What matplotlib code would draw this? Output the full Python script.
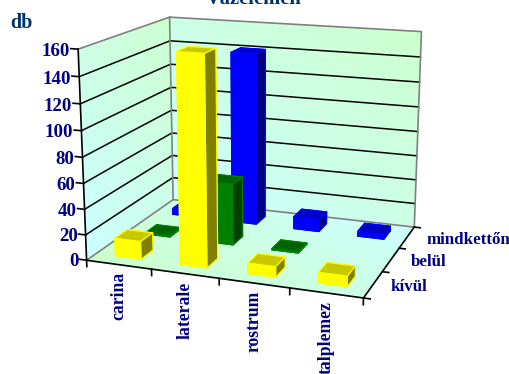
import matplotlib
matplotlib.use("Agg")
import matplotlib.pyplot as plt
from matplotlib.colors import to_rgb
from mpl_toolkits.mplot3d import proj3d
import numpy as np

categories = ["carina", "laterale", "rostrum", "talplemez"]
series_names = ["kívül", "belül", "mindkettőn"]
kivul = [14, 160, 8, 8]
belul = [1, 49, 1, 0]
mindketto = [5, 141, 10, 4]
z_ticks = [0, 20, 40, 60, 80, 100, 120, 140, 160]

# front / top / side colours of each series
series_colors = [
    ("#FFFF00", "#C8C800", "#808000"),
    ("#008000", "#006400", "#004000"),
    ("#0000FF", "#0000C8", "#000080"),
]
CYAN = np.array(to_rgb("#CCFFFF"))
GREEN = np.array(to_rgb("#CCFFCC"))
LABEL = "#000080"
DARK = "#003366"
FONT = "Liberation Serif"

W, H = 510, 374
SIDE = 640
plt.rcParams["font.family"] = FONT
plt.rcParams["font.weight"] = "bold"

fig = plt.figure(figsize=(W / 100, H / 100), dpi=100)
ax = fig.add_axes(
    [((W - SIDE) / 2 - 6.6) / W, ((H - SIDE) / 2 + 34.5) / H, SIDE / W, SIDE / H],
    projection="3d",
)
ax.computed_zorder = False
ax.set_xlim(0, 4)
ax.set_ylim(0, 3)
ax.set_zlim(0, 160)
ax.view_init(elev=14.946, azim=-69.967)
ax.set_proj_type("persp", focal_length=0.3371)
ax.set_box_aspect((1.3457, 1, 1.0081), zoom=0.6182)
ax.set_axis_off()


def gradient_wall(X, Y, Z, t):
    colors = CYAN + (GREEN - CYAN) * t[..., None]
    ax.plot_surface(
        X, Y, Z, facecolors=colors, shade=False, linewidth=0,
        antialiased=False, rcount=60, ccount=60, zorder=1,
    )


def label(x, y, z, text, **kwargs):
    # 3D text ignores rotation, so project the anchor and place it in 2D
    px, py, _ = proj3d.proj_transform(x, y, z, ax.get_proj())
    ax.text2D(px, py, text, transform=ax.transData, color=LABEL, **kwargs)


# walls and floor, each shading from cyan towards pale green
u, v = np.meshgrid(np.linspace(0, 1, 61), np.linspace(0, 1, 61))
gradient_wall(0 * u, 3 * u, 160 * v, (u + v) / 2)
gradient_wall(4 * u, 3 + 0 * u, 160 * v, (u + v) / 2)
gradient_wall(4 * u, 3 * v, 0 * u, 1 - (u + v) / 2)

for z in z_ticks[1:-1]:
    ax.plot([0, 0, 4], [0, 3, 3], [z, z, z], color="black", lw=1.1, zorder=2)

# pane borders
edge = dict(color="#808080", lw=1.2, zorder=2)
ax.plot([0, 0, 4, 4], [0, 3, 3, 3], [160, 160, 160, 0], **edge)
ax.plot([0, 0, 0], [0, 3, 3], [0, 0, 160], **edge)
ax.plot([0, 4], [3, 3], [0, 0], **edge)

# axis lines and tick marks
axis = dict(color="black", lw=1.2, zorder=2)
ax.plot([0, 0, 4, 4], [0, 0, 0, 3], [160, 0, 0, 0], **axis)
for z in z_ticks:
    ax.plot([0, -0.11], [0, 0], [z, z], **axis)
    label(-0.125, 0, z - 2.2, str(z), ha="right", va="center", fontsize=13.6)
for x in range(5):
    ax.plot([x, x], [0, 0], [0, -5], **axis)
for y in range(4):
    ax.plot([4, 4.09], [y, y], [0, 0], **axis)

for k, name in enumerate(categories):
    label(k + 0.5, 0, -6, name, rotation=90, ha="center", va="top", fontsize=12.7)
for j, (name, gap) in enumerate(zip(series_names, (0.24, 0.285, 0.3))):
    label(4 + gap, j + 0.5, 0, name, ha="left", va="center", fontsize=12.2)

# bars go back to front so nearer ones cover farther ones
rows = [kivul, belul, mindketto]
for j in (2, 1, 0):
    front, top, side = series_colors[j]
    # bar3d face order: bottom, top, front, back, left, right
    faces = [top, top, front, front, side, side]
    for k, value in enumerate(rows[j]):
        if value == 0:
            continue
        ax.bar3d(k + 0.3, j + 0.3, 0, 0.4, 0.4, value, color=faces, shade=False,
                 edgecolor=front, linewidth=0.8, zorder=10 - j)

fig.text(254 / W, 1 - 4 / H, "Vázelemen", ha="center", va="baseline", fontsize=14.8, color=DARK)
fig.text(10 / W, 1 - 28 / H, "db", ha="left", va="baseline", fontsize=14.4, color=DARK)

fig.savefig("out.png", dpi=100)
